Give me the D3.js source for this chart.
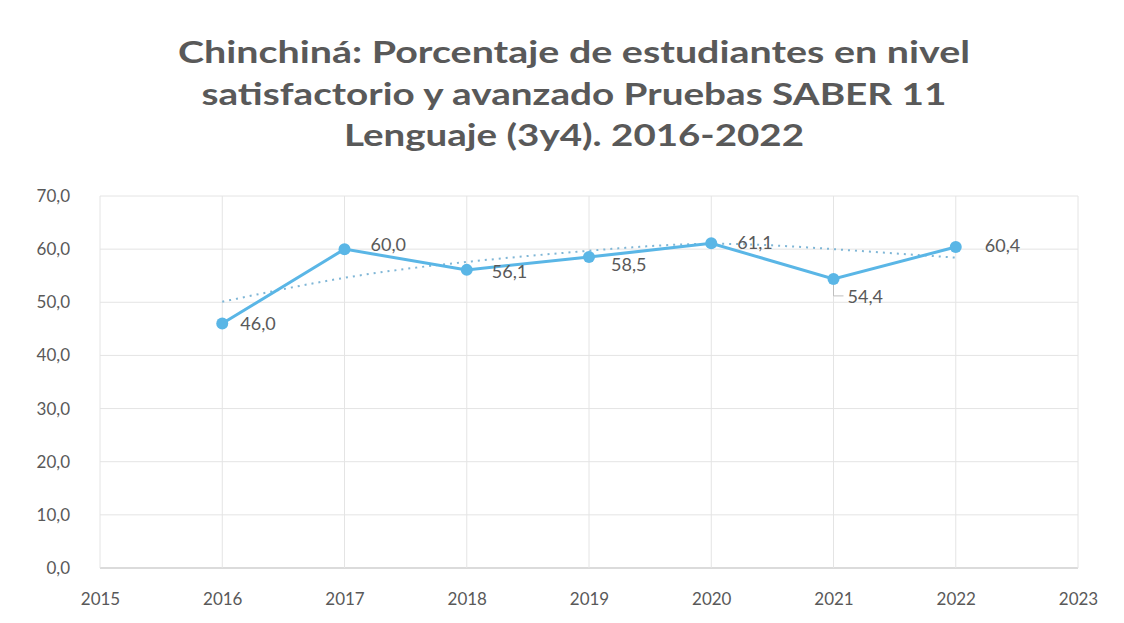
<!DOCTYPE html>
<html>
<head>
<meta charset="utf-8">
<script src="https://cdn.jsdelivr.net/npm/d3@7"></script>
<style>
  body { margin: 0; background: #fff; }
  text { font-family: Lato, "Open Sans", sans-serif; }
</style>
</head>
<body>
<script>
// data
const years = [2016, 2017, 2018, 2019, 2020, 2021, 2022];
const pct = [46.0, 60.0, 56.1, 58.5, 61.1, 54.4, 60.4];
// dotted trendline, read at each year
const trend = [50.1, 54.6, 57.6, 59.7, 61.0, 60.0, 58.4];
const yTicks = [0, 10, 20, 30, 40, 50, 60, 70];
const xTicks = [2015, 2016, 2017, 2018, 2019, 2020, 2021, 2022, 2023];
const titleLines = [
  "Chinchiná: Porcentaje de estudiantes en nivel",
  "satisfactorio y avanzado Pruebas SABER 11",
  "Lenguaje (3y4). 2016-2022"
];

const w = 1124;
const h = 623;
const margin = { top: 196, right: 46, bottom: 55, left: 100 };

const svg = d3.select("body")
  .append("svg")
  .attr("width", w)
  .attr("height", h);

const x = d3.scaleLinear()
  .domain([2015, 2023])
  .range([margin.left, w - margin.right]);

const y = d3.scaleLinear()
  .domain([0, 70])
  .range([h - margin.bottom, margin.top]);

// title: Calibri-like proportions, so a smaller Lato stretched to width
const titleWidths = [792, 745, 460];
const titleBase = [63, 105, 146];
titleLines.forEach((t, i) => {
  svg.append("text")
    .attr("x", 574)
    .attr("y", titleBase[i])
    .attr("text-anchor", "middle")
    .attr("font-size", 30)
    .attr("font-weight", "bold")
    .attr("fill", "#595959")
    .attr("textLength", titleWidths[i])
    .attr("lengthAdjust", "spacingAndGlyphs")
    .text(t);
});

// gridlines
svg.append("g")
  .selectAll("line")
  .data(yTicks)
  .join("line")
  .attr("x1", x(2015)).attr("x2", x(2023))
  .attr("y1", d => y(d)).attr("y2", d => y(d))
  .attr("stroke", d => d === 0 ? "#cfcfcf" : "#e4e4e4")
  .attr("stroke-width", d => d === 0 ? 1.5 : 1);

svg.append("g")
  .selectAll("line")
  .data(xTicks)
  .join("line")
  .attr("x1", d => x(d)).attr("x2", d => x(d))
  .attr("y1", y(0)).attr("y2", y(70))
  .attr("stroke", "#e4e4e4");

// axes (labels only)
const yAxis = svg.append("g")
  .attr("transform", `translate(${margin.left - 27},0)`)
  .call(d3.axisLeft(y).tickValues(yTicks).tickSize(0)
    .tickFormat(d => d3.format(".1f")(d).replace(".", ",")));
yAxis.select(".domain").remove();
yAxis.selectAll("text")
  .attr("font-size", 17)
  .attr("fill", "#595959")
  .attr("font-family", "Lato, sans-serif");

const xAxis = svg.append("g")
  .attr("transform", `translate(0,${y(0) + 22})`)
  .call(d3.axisBottom(x).tickValues(xTicks).tickSize(0).tickFormat(d3.format("d")));
xAxis.select(".domain").remove();
xAxis.selectAll("text")
  .attr("font-size", 17)
  .attr("fill", "#595959")
  .attr("font-family", "Lato, sans-serif");

// trendline
const trendLine = d3.line()
  .x((d, i) => x(years[i]))
  .y(d => y(d))
  .curve(d3.curveNatural);

svg.append("path")
  .datum(trend)
  .attr("d", trendLine)
  .attr("fill", "none")
  .attr("stroke", "#7fb6d6")
  .attr("stroke-width", 2)
  .attr("stroke-dasharray", "2,5");

// main series
const line = d3.line()
  .x((d, i) => x(years[i]))
  .y(d => y(d));

svg.append("path")
  .datum(pct)
  .attr("d", line)
  .attr("fill", "none")
  .attr("stroke", "#5ab6e6")
  .attr("stroke-width", 3);

svg.append("g")
  .selectAll("circle")
  .data(pct)
  .join("circle")
  .attr("cx", (d, i) => x(years[i]))
  .attr("cy", d => y(d))
  .attr("r", 6)
  .attr("fill", "#5ab6e6");

// data labels, nudged like the Excel ones
const nudge = [[18, 6], [26, 2], [25, 8], [22, 14], [26, 6], [14, 24], [29, 5]];

// leader line for the moved 2021 label
svg.append("path")
  .attr("d", `M${x(2021)},${y(54.4) + 6} L${x(2021)},${y(54.4) + 17} L${x(2021) + 10},${y(54.4) + 17}`)
  .attr("fill", "none")
  .attr("stroke", "#bfbfbf")
  .attr("stroke-width", 1);

svg.append("g")
  .selectAll("text")
  .data(pct)
  .join("text")
  .attr("x", (d, i) => x(years[i]) + nudge[i][0])
  .attr("y", (d, i) => y(d) + nudge[i][1])
  .attr("font-size", 18)
  .attr("fill", "#595959")
  .text(d => d3.format(".1f")(d).replace(".", ","));
</script>
</body>
</html>
